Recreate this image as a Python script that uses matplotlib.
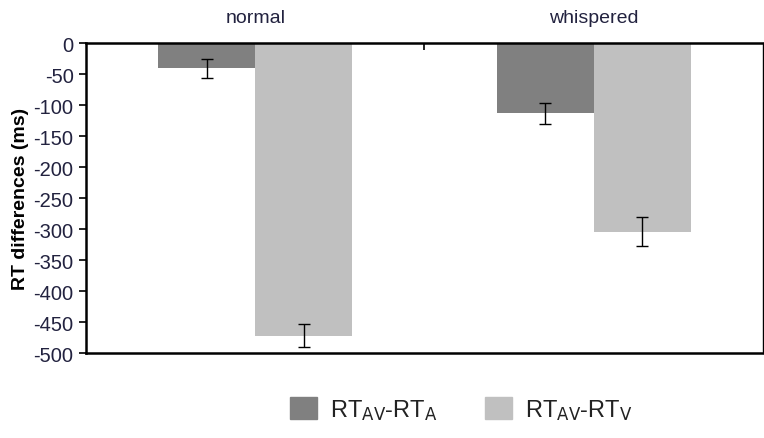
import matplotlib.pyplot as plt
import matplotlib.patches as mpatches
import numpy as np

# data
conditions = ['normal', 'whispered']
rt_av_a = [-41, -113]
rt_av_a_err = [15, 17]
rt_av_v = [-472, -304]
rt_av_v_err = [19, 23]
labels = [r'RT$_{\mathrm{AV}}$-RT$_{\mathrm{A}}$', r'RT$_{\mathrm{AV}}$-RT$_{\mathrm{V}}$']
colors = ['#808080', '#c0c0c0']

plt.rcParams['mathtext.default'] = 'regular'
plt.rcParams['axes.unicode_minus'] = False
fam = ['Liberation Sans', 'DejaVu Sans']
txtcol = '#22223f'

fig = plt.figure(figsize=(7.64, 4.39), dpi=100)
ax = fig.add_axes([0.1126, 0.1936, 0.886, 0.706])

x = np.arange(len(conditions))
w = 0.287
ax.bar(x - w / 2, rt_av_a, w, color=colors[0], zorder=2)
ax.bar(x + w / 2, rt_av_v, w, color=colors[1], zorder=2)
ax.errorbar(x - w / 2, rt_av_a, yerr=rt_av_a_err, fmt='none', ecolor='black',
            elinewidth=1, capsize=4, capthick=1, zorder=3)
ax.errorbar(x + w / 2, rt_av_v, yerr=rt_av_v_err, fmt='none', ecolor='black',
            elinewidth=1, capsize=4, capthick=1, zorder=3)

ax.set_xlim(-0.5, 1.5)
ax.set_ylim(-500, 0)
ax.set_yticks(np.arange(-500, 1, 50))
ax.tick_params(axis='y', direction='out', length=5, width=1.2, pad=4,
               labelsize=14.5, labelcolor=txtcol)
for t in ax.get_yticklabels():
    t.set_family(fam)

# category labels on top, boundary tick in between
ax.xaxis.tick_top()
ax.set_xticks(x)
ax.set_xticklabels(conditions, family=fam, fontsize=14, color=txtcol)
ax.tick_params(axis='x', which='major', length=0, pad=12)
ax.set_xticks([0.5], minor=True)
ax.tick_params(axis='x', which='minor', direction='in', length=5, width=1.2)

for s in ['left', 'top', 'bottom']:
    ax.spines[s].set_linewidth(1.8)
ax.spines['right'].set_linewidth(1.0)

ax.set_ylabel('RT differences (ms)', fontsize=14, fontweight='bold', family=fam)
ax.yaxis.set_label_coords(-0.084, 0.5)

handles = [mpatches.Patch(color=c) for c in colors]
fig.legend(handles, labels, loc='center', bbox_to_anchor=(0.604, 0.064), ncol=2,
           frameon=False, prop={'family': fam, 'size': 17},
           handlelength=1.15, handleheight=1.05, handletextpad=0.55, columnspacing=2.0,
           labelcolor='#222222')

fig.savefig('out.png', dpi=100)
